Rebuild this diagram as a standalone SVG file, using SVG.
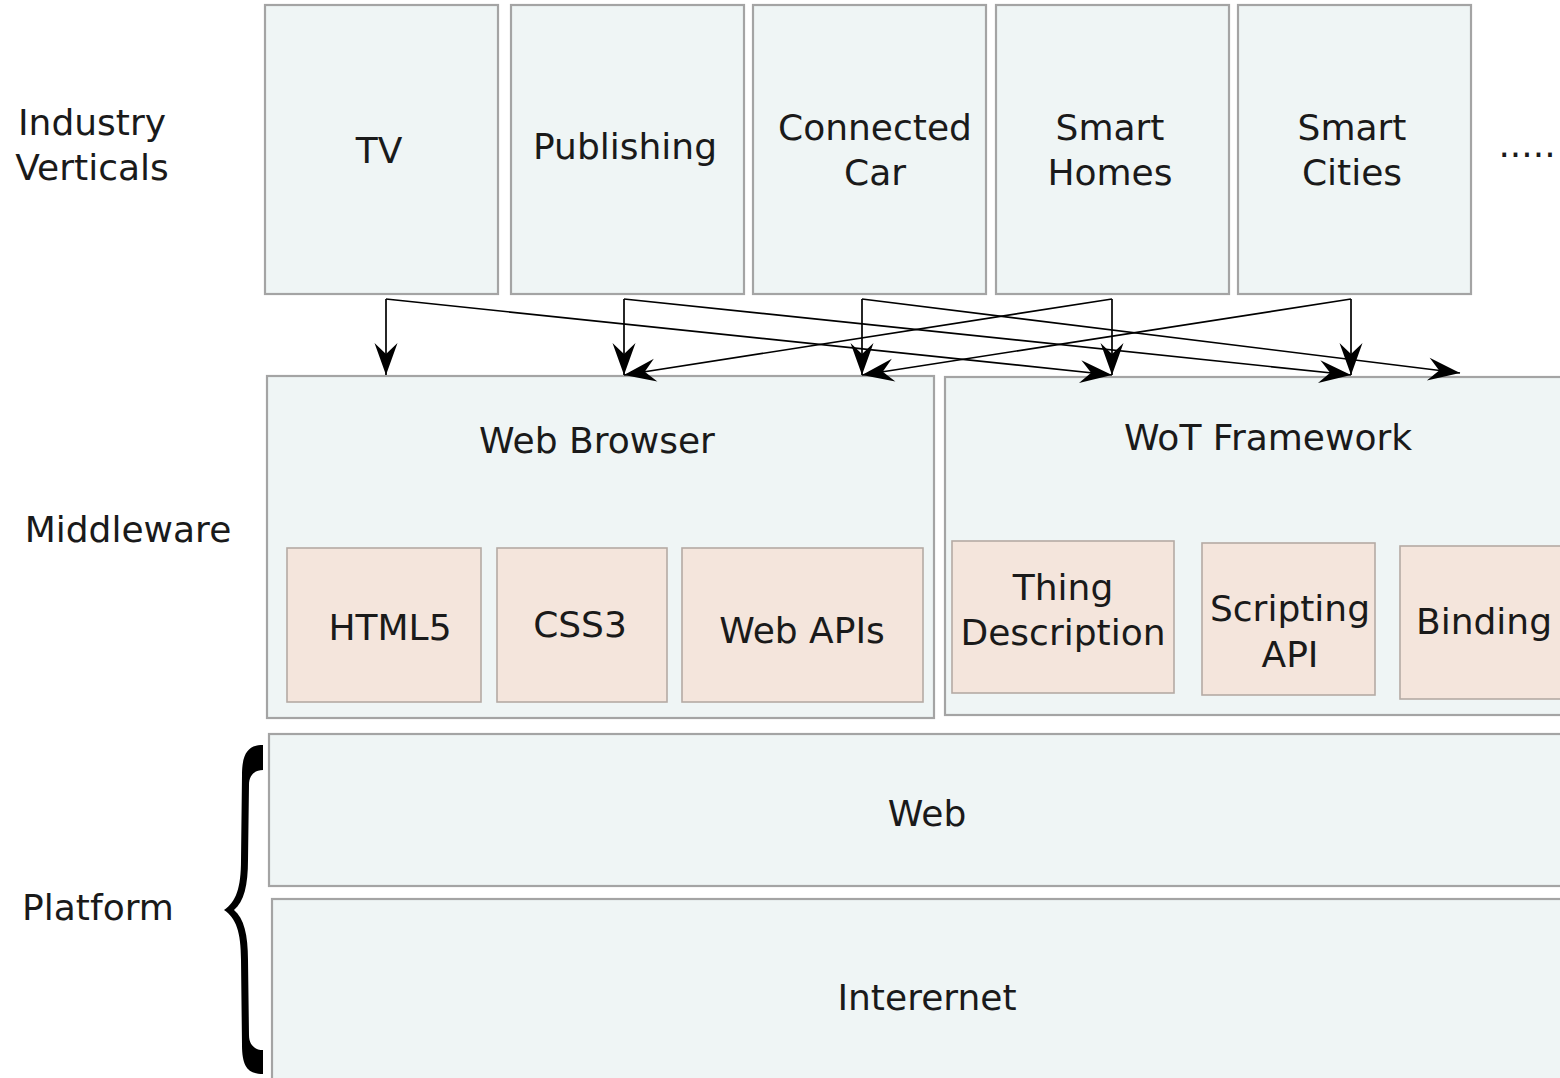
<svg xmlns="http://www.w3.org/2000/svg" width="1560" height="1078" viewBox="0 0 1560 1078">
<style>
.box{fill:#eff5f5;stroke:#a4a4a4;stroke-width:2.2}
.sub{fill:#f4e5dc;stroke:#b5aaa4;stroke-width:1.6}
.t{font-family:"DejaVu Sans",sans-serif;font-size:36px;fill:#1a1a1a;text-anchor:middle}
.c{fill:none;stroke:#000;stroke-width:1.7}
</style>
<defs>
<marker id="ah" viewBox="-34 -13 36 26" refX="0" refY="0" markerWidth="36" markerHeight="26" markerUnits="userSpaceOnUse" orient="auto">
<path d="M0,0 L-32,-11.5 L-21,0 L-32,11.5 Z" fill="#000"/>
</marker>
</defs>
<rect width="1560" height="1078" fill="#fff"/>
<g id="label-industry"><text class="t" x="92" y="135">Industry</text><text class="t" x="92" y="180">Verticals</text></g>
<g id="label-middleware"><text class="t" x="128" y="542">Middleware</text></g>
<g id="label-platform"><text class="t" x="98" y="920">Platform</text></g>
<g id="tv"><rect class="box" x="265" y="5" width="233" height="289"/><text class="t" x="379" y="163">TV</text></g>
<g id="publishing"><rect class="box" x="511" y="5" width="233" height="289"/><text class="t" x="625" y="159">Publishing</text></g>
<g id="connected-car"><rect class="box" x="753" y="5" width="233" height="289"/><text class="t" x="875" y="140">Connected</text><text class="t" x="875" y="185">Car</text></g>
<g id="smart-homes"><rect class="box" x="996" y="5" width="233" height="289"/><text class="t" x="1110" y="140">Smart</text><text class="t" x="1110" y="185">Homes</text></g>
<g id="smart-cities"><rect class="box" x="1238" y="5" width="233" height="289"/><text class="t" x="1352" y="140">Smart</text><text class="t" x="1352" y="185">Cities</text></g>
<g id="more"><text class="t" x="1527" y="157">.....</text></g>
<g id="web-browser"><rect class="box" x="267" y="376" width="667" height="342"/><text class="t" x="597" y="453">Web Browser</text></g>
<g id="html5"><rect class="sub" x="287" y="548" width="194" height="154"/><text class="t" x="390" y="640">HTML5</text></g>
<g id="css3"><rect class="sub" x="497" y="548" width="170" height="154"/><text class="t" x="580" y="637">CSS3</text></g>
<g id="web-apis"><rect class="sub" x="682" y="548" width="241" height="154"/><text class="t" x="802" y="643">Web APIs</text></g>
<g id="wot-framework"><rect class="box" x="945" y="377" width="620" height="338"/><text class="t" x="1268" y="450">WoT Framework</text></g>
<g id="thing-description"><rect class="sub" x="952" y="541" width="222" height="152"/><text class="t" x="1063" y="600">Thing</text><text class="t" x="1063" y="645">Description</text></g>
<g id="scripting-api"><rect class="sub" x="1202" y="543" width="173" height="152"/><text class="t" x="1290" y="621">Scripting</text><text class="t" x="1290" y="667">API</text></g>
<g id="binding"><rect class="sub" x="1400" y="546" width="170" height="153"/><text class="t" x="1484" y="634">Binding</text></g>
<g id="web"><rect class="box" x="269" y="734" width="1300" height="152"/><text class="t" x="927" y="826">Web</text></g>
<g id="internet"><rect class="box" x="272" y="899" width="1300" height="190"/><text class="t" x="927" y="1010">Interernet</text></g>
<g id="brace"><path d="M263,745 C249,745 242,752 242,775 L241,860 C241,888 236,902 224,910 C236,918 241,932 241,960 L242,1045 C242,1068 249,1074 263,1074 L263,1050 C255,1050 249,1045 249,1035 L248,960 C248,935 244,918 234,910 C244,902 248,885 248,860 L249,785 C249,775 255,770 263,770 Z" fill="#000"/></g>
<g id="connectors">
<path class="c" d="M386,299 L386,375" marker-end="url(#ah)"/>
<path class="c" d="M386,299 L1112,375" marker-end="url(#ah)"/>
<path class="c" d="M624,299 L624,375" marker-end="url(#ah)"/>
<path class="c" d="M624,299 L1351,375" marker-end="url(#ah)"/>
<path class="c" d="M862,299 L862,375" marker-end="url(#ah)"/>
<path class="c" d="M862,299 L1460,373" marker-end="url(#ah)"/>
<path class="c" d="M1112,299 L1112,375" marker-end="url(#ah)"/>
<path class="c" d="M1112,299 L624,375" marker-end="url(#ah)"/>
<path class="c" d="M1351,299 L1351,375" marker-end="url(#ah)"/>
<path class="c" d="M1351,299 L862,375" marker-end="url(#ah)"/>
</g>
</svg>
